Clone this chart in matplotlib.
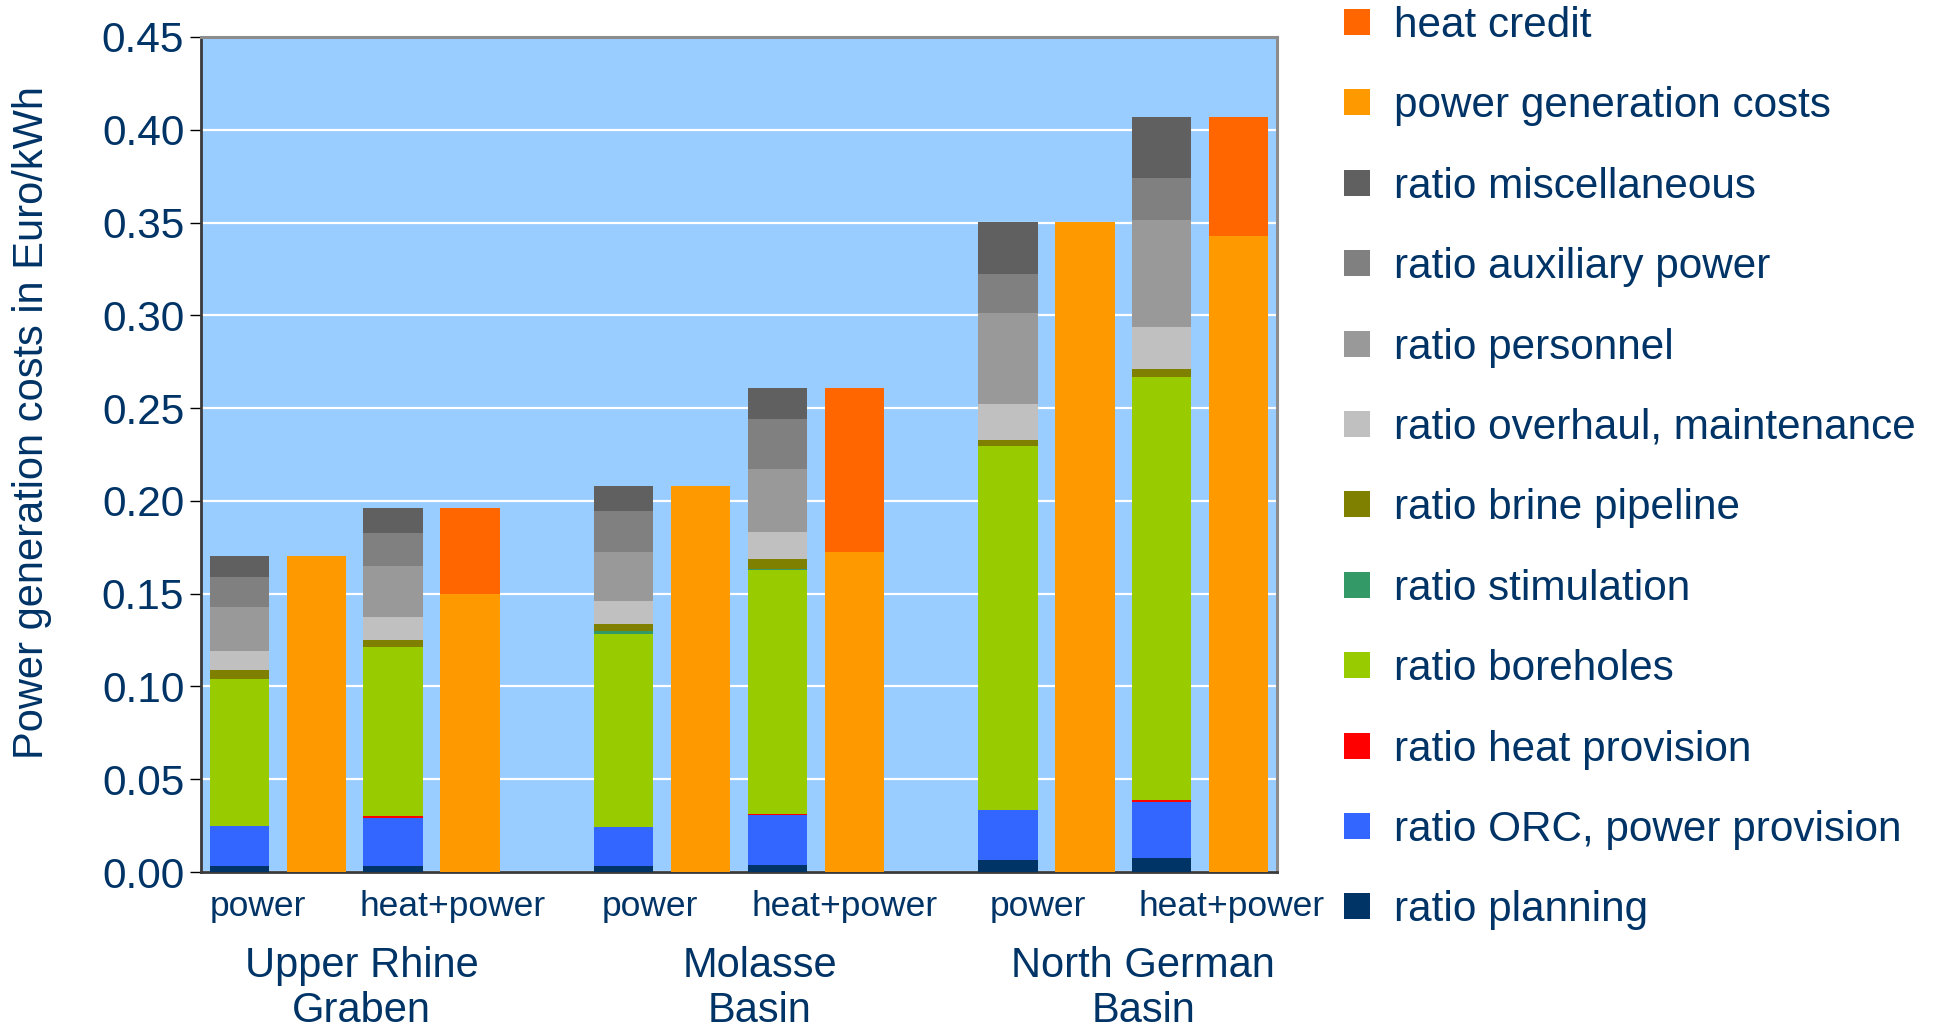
import matplotlib
matplotlib.use("Agg")
import matplotlib.pyplot as plt
import matplotlib.transforms as mtransforms
from matplotlib.patches import Rectangle
import numpy as np

plt.rcParams['font.family'] = ['Liberation Sans', 'DejaVu Sans']

# Stacked cost shares (Euro/kWh), one value per stacked bar:
# Upper Rhine power, Upper Rhine heat+power, Molasse power, Molasse heat+power,
# North German power, North German heat+power
ratio_planning      = [0.0035, 0.0030, 0.0030, 0.0040, 0.0065, 0.0075]
ratio_orc_power     = [0.0215, 0.0260, 0.0215, 0.0265, 0.0270, 0.0300]
ratio_heat_prov     = [0.0000, 0.0010, 0.0000, 0.0010, 0.0000, 0.0015]
ratio_boreholes     = [0.0790, 0.0910, 0.1040, 0.1310, 0.1960, 0.2280]
ratio_stimulation   = [0.0000, 0.0000, 0.0015, 0.0010, 0.0000, 0.0000]
ratio_brine_pipe    = [0.0050, 0.0040, 0.0035, 0.0050, 0.0035, 0.0040]
ratio_overhaul      = [0.0100, 0.0125, 0.0125, 0.0145, 0.0190, 0.0225]
ratio_personnel     = [0.0240, 0.0275, 0.0265, 0.0340, 0.0495, 0.0580]
ratio_auxiliary     = [0.0160, 0.0175, 0.0220, 0.0270, 0.0210, 0.0225]
ratio_misc          = [0.0115, 0.0135, 0.0135, 0.0170, 0.0280, 0.0330]

# Summary bars: power generation costs and heat credit on top
power_gen_costs = [0.1705, 0.1500, 0.2080, 0.1725, 0.3505, 0.3430]
heat_credit     = [0.0000, 0.0460, 0.0000, 0.0885, 0.0000, 0.0640]

scenario_labels = ["power", "heat+power"] * 3
region_labels = [("Upper Rhine", "Graben"), ("Molasse", "Basin"), ("North German", "Basin")]

y_ticks = [0.00, 0.05, 0.10, 0.15, 0.20, 0.25, 0.30, 0.35, 0.40, 0.45]

components = [
    ("ratio planning", ratio_planning, "#003366"),
    ("ratio ORC, power provision", ratio_orc_power, "#3366FF"),
    ("ratio heat provision", ratio_heat_prov, "#FF0000"),
    ("ratio boreholes", ratio_boreholes, "#99CC00"),
    ("ratio stimulation", ratio_stimulation, "#339966"),
    ("ratio brine pipeline", ratio_brine_pipe, "#808000"),
    ("ratio overhaul, maintenance", ratio_overhaul, "#C0C0C0"),
    ("ratio personnel", ratio_personnel, "#999999"),
    ("ratio auxiliary power", ratio_auxiliary, "#808080"),
    ("ratio miscellaneous", ratio_misc, "#606060"),
]
col_pgc = "#FF9900"
col_credit = "#FF6600"
text_col = "#003366"

W, H = 1935, 1032
fig = plt.figure(figsize=(W / 100, H / 100), dpi=100)
ax = fig.add_axes([201 / W, 1 - 872 / H, 1076 / W, 835 / H])
ax.set_facecolor("#99CCFF")

# slot layout: 4 bars per region, one empty slot between regions
n_groups = 3
stack_x = []
summary_x = []
for g in range(n_groups):
    base = g * 5
    stack_x += [base + 0, base + 2]
    summary_x += [base + 1, base + 3]
stack_x = np.array(stack_x, dtype=float)
summary_x = np.array(summary_x, dtype=float)
bw = 0.775

bottom = np.zeros(len(stack_x))
for name, vals, col in components:
    vals = np.array(vals)
    ax.bar(stack_x, vals, bw, bottom=bottom, color=col, linewidth=0, zorder=3)
    bottom += vals

ax.bar(summary_x, power_gen_costs, bw, color=col_pgc, linewidth=0, zorder=3)
ax.bar(summary_x, heat_credit, bw, bottom=power_gen_costs, color=col_credit,
       linewidth=0, zorder=3)

ax.set_xlim(-0.5, 13.5)
ax.set_ylim(0, 0.45)
ax.set_yticks(y_ticks)
ax.set_yticklabels([f"{v:.2f}" for v in y_ticks])
ax.yaxis.grid(True, color="white", linewidth=1.6, zorder=1)
ax.set_axisbelow(True)
ax.tick_params(axis="y", labelsize=30.5, labelcolor=text_col, color="black",
               length=8, width=1, pad=4, direction="out")

# scenario labels under the bars
label_x = [0.24, 2.77, 5.34, 7.87, 10.39, 12.91]
ax.set_xticks(label_x)
ax.set_xticklabels(scenario_labels)
ax.tick_params(axis="x", length=0, labelsize=25.5, labelcolor=text_col, pad=13)

# region labels
region_x = [1.59, 6.77, 11.76]
blend = mtransforms.blended_transform_factory(ax.transData, fig.transFigure)
for xc, (l1, l2) in zip(region_x, region_labels):
    ax.text(xc, 1 - 977 / H, l1, transform=blend, ha="center", va="baseline",
            fontsize=30, color=text_col)
    ax.text(xc, 1 - 1022 / H, l2, transform=blend, ha="center", va="baseline",
            fontsize=30, color=text_col)

ax.set_ylabel("Power generation costs in Euro/kWh", fontsize=30, color=text_col)
ax.yaxis.set_label_coords(-0.1385, 0.538)

for side in ["top", "right"]:
    ax.spines[side].set_color("#8c8c8c")
    ax.spines[side].set_linewidth(2.2)
for side in ["left", "bottom"]:
    ax.spines[side].set_color("#3a3a3a")
    ax.spines[side].set_linewidth(2.0)

# legend, top entry first
legend_items = [("heat credit", col_credit), ("power generation costs", col_pgc)]
legend_items += [(name, col) for name, _, col in reversed(components)]
sq = 26
for i, (name, col) in enumerate(legend_items):
    yc = 22 + i * 80.4
    fig.patches.append(Rectangle((1344 / W, 1 - (yc + sq / 2) / H), sq / W, sq / H,
                                 transform=fig.transFigure, facecolor=col,
                                 edgecolor="none"))
    fig.text(1394 / W, 1 - (yc + 15) / H, name, ha="left", va="baseline",
             fontsize=30.4, color=text_col)

fig.savefig("out.png", dpi=100)
